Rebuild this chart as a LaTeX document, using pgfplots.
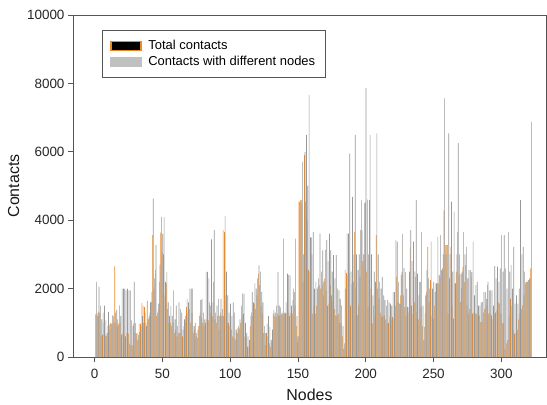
\documentclass[border=0pt]{standalone}
\usepackage{fontspec}
\setmainfont{Liberation Sans}
\usepackage{pgfplots}
\usepackage{pgfplotstable}
\pgfplotsset{compat=1.18}
\definecolor{barorange}{RGB}{238,138,36}
\definecolor{bargray}{RGB}{152,152,152}
\definecolor{leggray}{RGB}{192,192,192}
\definecolor{axisgray}{RGB}{85,85,85}

\pgfplotstableread{
n g o
1 2200 1250
2 1200 1280
3 2050 1320
4 1500 1300
5 1100 600
6 1300 650
7 1500 1000
8 1070 630
9 700 600
10 1320 900
11 800 950
12 975 1000
13 1220 975
14 1000 1200
15 1300 2650
16 1370 1000
17 900 1100
18 1510 975
19 1200 1000
20 2000 650
21 2000 700
22 2000 650
23 1950 600
24 2000 700
25 1950 680
26 1950 390
27 1070 350
28 900 340
29 2200 975
30 1000 700
31 700 680
32 650 500
33 730 975
34 900 975
35 1200 1580
36 1000 1500
37 1300 1460
38 900 1000
39 1100 1640
40 1200 1120
41 1600 1300
42 1900 1610
43 4630 3560
44 2300 2000
45 3270 2540
46 1300 1200
47 1560 1400
48 2700 2200
49 4100 3640
50 3600 3070
51 4100 3000
52 2200 1800
53 2490 2150
54 1600 1400
55 1200 1000
56 1500 1000
57 1200 900
58 1950 1000
59 1100 700
60 1500 800
61 900 600
62 1600 700
63 1400 700
64 1300 800
65 800 600
66 1100 900
67 1200 1000
68 1700 1460
69 1600 1300
70 2000 1400
71 2000 1000
72 2000 1300
73 900 700
74 1000 800
75 700 600
76 800 550
77 1200 900
78 1660 1300
79 1700 1150
80 1300 1000
81 1100 900
82 2490 1000
83 2490 1100
84 2300 1070
85 1500 1600
86 3440 1300
87 1600 1200
88 3710 2200
89 1300 1100
90 1500 1000
91 1700 1200
92 1200 800
93 1700 1300
94 1400 1200
95 1200 3710
96 4120 3650
97 2500 1800
98 1800 1000
99 1300 1000
100 1560 900
101 1200 800
102 1600 600
103 1300 550
104 800 500
105 700 800
106 900 850
107 1100 830
108 1500 1000
109 1850 1200
110 1850 1270
111 1000 600
112 700 585
113 600 300
114 490 290
115 1200 900
116 1900 1300
117 1600 1200
118 2150 1560
119 2000 1400
120 2300 1800
121 2680 2440
122 2500 2100
123 1900 1500
124 1600 1270
125 900 700
126 700 340
127 975 700
128 1200 600
129 880 400
130 500 300
131 800 450
132 1370 1270
133 1300 1200
134 1500 1170
135 2490 1270
136 1500 1200
137 1450 1220
138 1300 1250
139 3460 1270
140 1300 1250
141 1600 1280
142 2440 1270
143 2400 1300
144 2390 1200
145 1500 1300
146 1660 1270
147 1900 2000
148 3460 1500
149 1200 900
150 600 440
151 4540 4540
152 4500 4590
153 5710 4590
154 3000 2200
155 6000 5900
156 6490 4540
157 5000 4000
158 7660 2550
159 3500 2500
160 3000 3500
161 3660 1270
162 2000 1500
163 2200 1270
164 2000 1500
165 2300 2050
166 3610 2100
167 2500 2000
168 3120 2100
169 2200 1800
170 3140 2290
171 3420 1950
172 2800 1500
173 3610 1560
174 3120 2100
175 2500 1800
176 2980 1650
177 2300 1400
178 2980 1220
179 2000 1200
180 1950 1270
181 1700 1000
182 1510 980
183 900 600
184 400 240
185 2000 2540
186 3610 2450
187 3610 2400
188 5950 2450
189 2500 1500
190 4680 2140
191 3000 2200
192 6490 3660
193 3000 2000
194 2540 1220
195 3000 1500
196 3710 2340
197 3700 4590
198 3000 2800
199 4500 3000
200 7860 4540
201 4600 2500
202 3000 1460
203 6490 4590
204 3000 2000
205 1800 980
206 2500 1500
207 2200 1220
208 6540 3560
209 3000 2000
210 2200 1710
211 2000 1300
212 2340 1170
213 1800 1200
214 1660 1220
215 1500 1100
216 1660 980
217 1600 1000
218 1560 1170
219 1500 1100
220 1900 1170
221 1900 1120
222 3420 1500
223 3370 2340
224 2200 1600
225 1560 1560
226 2400 1800
227 3610 2490
228 2600 1800
229 2490 1460
230 2000 1200
231 1460 1460
232 2500 1300
233 3710 3200
234 2800 1500
235 3370 1270
236 2500 1600
237 4590 2340
238 2440 1320
239 1800 1100
240 2200 2200
241 3660 1460
242 1500 900
243 880 490
244 1800 1300
245 2540 1900
246 2300 3220
247 2000 1600
248 3370 2250
249 2000 1200
250 2200 1120
251 1900 1500
252 2150 2150
253 3510 2150
254 2400 2150
255 3560 2340
256 2540 2540
257 3000 2600
258 7560 4290
259 3000 3270
260 3270 3270
261 6540 1270
262 3000 2300
263 4540 3220
264 2500 1500
265 4250 1120
266 2150 2150
267 3000 2500
268 6250 3660
269 3000 2400
270 2440 1610
271 2500 2000
272 3660 2640
273 3000 2200
274 3220 2690
275 2300 1500
276 2540 1270
277 2540 1400
278 2490 2340
279 3370 1270
280 1800 1300
281 2100 1270
282 2200 1270
283 1500 1200
284 1500 1220
285 1600 1020
286 1610 1020
287 1900 1300
288 1900 1400
289 1700 1500
290 2200 2100
291 1950 1270
292 1950 1300
293 1950 1220
294 1500 1100
295 2660 1270
296 2300 1300
297 2640 1370
298 2200 1600
299 2590 1560
300 3560 1270
301 2500 1000
302 3560 980
303 2590 240
304 2000 400
305 3660 490
306 2500 1200
307 2690 1710
308 2000 1500
309 3220 800
310 1560 680
311 1800 700
312 1560 800
313 2000 1100
314 4590 1270
315 3000 1400
316 3220 1510
317 2500 1800
318 2200 2150
319 2200 2200
320 2250 2250
321 2300 2300
322 6880 2590
}\datatable

\begin{document}
\begin{tikzpicture}
\begin{axis}[
  name=ax,
  scale only axis,
  width=473bp, height=342bp,
  xmin=-16, xmax=333, ymin=0, ymax=10000,
  xtick={0,50,...,300}, ytick={0,2000,...,10000},
  tick align=outside, xtick pos=left, ytick pos=left,
  major tick length=5bp,
  axis line style={axisgray, line width=0.8bp},
  tick style={axisgray, line width=0.8bp},
  ticklabel style={font=\fontsize{13.5}{15}\selectfont, text=black!85},
  xticklabel style={yshift=-4bp},
  /pgf/number format/assume math mode=true,
  /pgf/number format/1000 sep={},
  scaled y ticks=false,
  xlabel={Nodes}, ylabel={Contacts},
  label style={font=\fontsize{16}{18}\selectfont, text=black!90},
  xlabel style={yshift=-3bp},
  ylabel style={yshift=1bp},
  legend style={at={(0.0613,0.956)}, anchor=north west, draw=axisgray,
    line width=0.8bp, font=\fontsize{13}{15}\selectfont,
    inner xsep=8bp, inner ysep=8bp, row sep=1bp},
  legend cell align=left,
]
\addlegendimage{legend image code/.code={\draw[fill=black, draw=barorange, line width=1.2bp] (0bp,-4.3bp) rectangle (30bp,4.3bp); \path (35bp,0bp);}}
\addlegendentry{Total contacts}
\addlegendimage{legend image code/.code={\draw[fill=leggray, draw=leggray, line width=1.2bp] (0bp,-4.3bp) rectangle (30bp,4.3bp); \path (35bp,0bp);}}
\addlegendentry{Contacts with different nodes}
\addplot[ybar, bar width=0.45, bar shift=-0.23, fill=barorange, draw=none, forget plot] table[x=n, y=o]{\datatable};
\addplot[ybar, bar width=0.48, bar shift=0.23, fill=bargray, draw=none, forget plot] table[x=n, y=g]{\datatable};
\end{axis}
\pgfresetboundingbox
\path[use as bounding box] ([shift={(-73bp,-48bp)}]ax.south west) rectangle ([shift={(1bp,15bp)}]ax.north east);
\end{tikzpicture}
\end{document}
